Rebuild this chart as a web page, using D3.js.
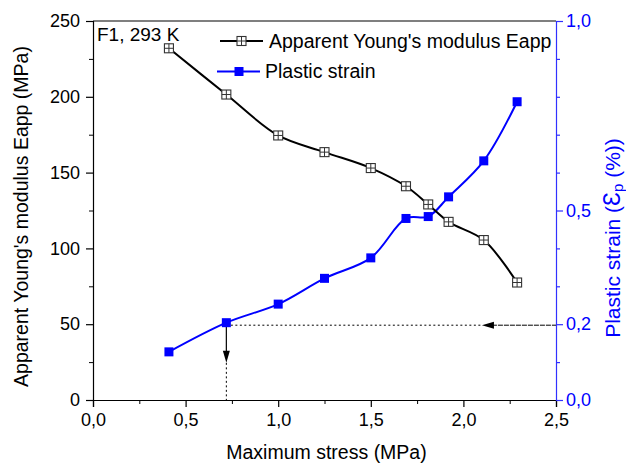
<!DOCTYPE html>
<html>
<head>
<meta charset="utf-8">
<script src="https://cdn.jsdelivr.net/npm/d3@7"></script>
<style>
  html, body { margin: 0; padding: 0; background: #fff; }
  svg { display: block; font-family: "Liberation Sans", Arial, sans-serif; }
</style>
</head>
<body>
<svg id="chart" width="626" height="466"></svg>
<script>
// ---- data ----
const stress = [0.41, 0.72, 1.0, 1.25, 1.5, 1.69, 1.81, 1.92, 2.11, 2.29];
const eapp = [232, 201.5, 174.5, 163.5, 153, 141, 129, 117.5, 105.5, 77.5];
const plasticStrain = [0.127, 0.204, 0.253, 0.321, 0.375, 0.479, 0.484, 0.536, 0.631, 0.787];
const xTicks = [0, 0.5, 1.0, 1.5, 2.0, 2.5];
const yLeftTicks = [0, 50, 100, 150, 200, 250];
const yRightTicks = [0, 0.2, 0.5, 1.0];
const legendLabels = ["Apparent Young's modulus Eapp", "Plastic strain"];
const annotation = "F1, 293 K";
// guide arrows (data units)
const guideStrain = 0.2;
const guideStress = 0.72;
const hArrowTip = 2.1;
const vArrowTip = 0.098;

// ---- layout ----
const svg = d3.select("#chart");
const L = 93, R = 556, T = 21, B = 400;
const blue = "#0000ff";
const axisBlue = "#3030ff";

const x = d3.scaleLinear().domain([0, 2.5]).range([L, R]);
const yL = d3.scaleLinear().domain([0, 250]).range([B, T]);
const yR = d3.scaleLinear().domain([0, 1]).range([B, T]);
const fmt = d => d3.format(".1f")(d).replace(".", ",");

// ---- axes ----
const xAxis = d3.axisBottom(x).tickValues(xTicks).tickFormat(fmt).tickSize(7).tickPadding(6);
const xMinor = d3.axisBottom(x).tickValues(d3.range(0.25, 2.5, 0.5)).tickFormat("").tickSize(4);
const gx = svg.append("g").attr("transform", `translate(0,${B})`).call(xAxis);
svg.append("g").attr("transform", `translate(0,${B})`).call(xMinor).select(".domain").remove();

const yAxisL = d3.axisLeft(yL).tickValues(yLeftTicks).tickSize(7).tickPadding(6);
const yMinorL = d3.axisLeft(yL).tickValues(d3.range(25, 250, 50)).tickFormat("").tickSize(4);
const gyl = svg.append("g").attr("transform", `translate(${L},0)`).call(yAxisL);
svg.append("g").attr("transform", `translate(${L},0)`).call(yMinorL).select(".domain").remove();

const yAxisR = d3.axisRight(yR).tickValues(yRightTicks).tickFormat(fmt).tickSize(7).tickPadding(3);
const yMinorR = d3.axisRight(yR).tickValues([0.1, 0.3, 0.4, 0.6, 0.7, 0.8, 0.9]).tickFormat("").tickSize(4);
const gyr = svg.append("g").attr("transform", `translate(${R},0)`).call(yAxisR);
const gyrm = svg.append("g").attr("transform", `translate(${R},0)`).call(yMinorR);
gyrm.select(".domain").remove();

// top border
svg.append("line").attr("x1", L).attr("x2", R).attr("y1", T).attr("y2", T)
  .attr("stroke", "#000").attr("stroke-width", 1.2);

[gx, gyl].forEach(g => {
  g.selectAll("text").attr("font-size", 18).attr("fill", "#000").attr("font-family", "Liberation Sans, Arial, sans-serif");
  g.selectAll("line,path").attr("stroke", "#000").attr("stroke-width", 1.2);
});
gyr.selectAll("text").attr("font-size", 18).attr("fill", blue).attr("font-family", "Liberation Sans, Arial, sans-serif");
gyr.selectAll("line,path").attr("stroke", axisBlue).attr("stroke-width", 1.2);
gyrm.selectAll("line").attr("stroke", axisBlue).attr("stroke-width", 1.2);

// ---- axis titles ----
svg.append("text").attr("x", (L + R) / 2 + 2).attr("y", 459).attr("text-anchor", "middle")
  .attr("font-size", 19.5).text("Maximum stress (MPa)");
svg.append("text").attr("transform", `translate(28,${(T + B) / 2 + 6}) rotate(-90)`)
  .attr("text-anchor", "middle").attr("font-size", 19.5).text("Apparent Young's modulus Eapp (MPa)");
const rt = svg.append("text").attr("transform", `translate(620,238) rotate(-90)`)
  .attr("text-anchor", "middle").attr("font-size", 21).attr("fill", blue);
rt.append("tspan").text("Plastic strain (");
rt.append("tspan").attr("font-size", 23).text("Ɛ");
rt.append("tspan").attr("font-size", 15).attr("dy", 3).text("p");
rt.append("tspan").attr("dy", -3).text(" (%))");

// ---- guide arrows ----
const gy = yR(guideStrain);
const gxp = x(guideStress);
svg.append("line").attr("x1", gxp).attr("x2", x(hArrowTip)).attr("y1", gy + 1).attr("y2", gy + 1)
  .attr("stroke", "#000").attr("stroke-width", 1).attr("stroke-dasharray", "2,2.5");
svg.append("line").attr("x1", x(hArrowTip) + 10).attr("x2", R).attr("y1", gy + 1).attr("y2", gy + 1)
  .attr("stroke", "#000").attr("stroke-width", 1).attr("stroke-dasharray", "5,1");
svg.append("path").attr("d", `M${x(hArrowTip)},${gy + 1} L${x(hArrowTip) + 12},${gy - 2.5} L${x(hArrowTip) + 12},${gy + 4.5} Z`)
  .attr("fill", "#000");
svg.append("line").attr("x1", gxp).attr("x2", gxp).attr("y1", gy).attr("y2", yR(vArrowTip) - 10)
  .attr("stroke", "#000").attr("stroke-width", 1.2);
svg.append("path").attr("d", `M${gxp},${yR(vArrowTip)} L${gxp - 3.5},${yR(vArrowTip) - 12} L${gxp + 3.5},${yR(vArrowTip) - 12} Z`)
  .attr("fill", "#000");
svg.append("line").attr("x1", gxp).attr("x2", gxp).attr("y1", yR(vArrowTip)).attr("y2", B)
  .attr("stroke", "#000").attr("stroke-width", 1).attr("stroke-dasharray", "2,2.5");

// ---- lines ----
const eData = stress.map((s, i) => [s, eapp[i]]);
const pData = stress.map((s, i) => [s, plasticStrain[i]]);
const lineE = d3.line().x(d => x(d[0])).y(d => yL(d[1])).curve(d3.curveCatmullRom.alpha(0.5));
const lineP = d3.line().x(d => x(d[0])).y(d => yR(d[1])).curve(d3.curveCatmullRom.alpha(0.5));

svg.append("path").datum(pData).attr("d", lineP).attr("fill", "none").attr("stroke", blue).attr("stroke-width", 2);
svg.append("path").datum(eData).attr("d", lineE).attr("fill", "none").attr("stroke", "#000").attr("stroke-width", 2);

// markers
function crossSquare(g, cx, cy) {
  const s = 9;
  g.append("rect").attr("x", cx - s / 2).attr("y", cy - s / 2).attr("width", s).attr("height", s)
    .attr("fill", "#fff").attr("stroke", "#333").attr("stroke-width", 1.1);
  g.append("line").attr("x1", cx - s / 2).attr("x2", cx + s / 2).attr("y1", cy).attr("y2", cy)
    .attr("stroke", "#333").attr("stroke-width", 1);
  g.append("line").attr("x1", cx).attr("x2", cx).attr("y1", cy - s / 2).attr("y2", cy + s / 2)
    .attr("stroke", "#333").attr("stroke-width", 1);
}
function blueSquare(g, cx, cy) {
  const s = 9;
  g.append("rect").attr("x", cx - s / 2).attr("y", cy - s / 2).attr("width", s).attr("height", s)
    .attr("fill", blue);
}
const mP = svg.append("g");
pData.forEach(d => blueSquare(mP, x(d[0]), yR(d[1])));
const mE = svg.append("g");
eData.forEach(d => crossSquare(mE, x(d[0]), yL(d[1])));

// ---- legend ----
const lg = svg.append("g");
lg.append("line").attr("x1", 220).attr("x2", 263).attr("y1", 41).attr("y2", 41).attr("stroke", "#000").attr("stroke-width", 2);
crossSquare(lg, 241.5, 41);
lg.append("text").attr("x", 269).attr("y", 47.5).attr("font-size", 19.5).text(legendLabels[0]);
lg.append("line").attr("x1", 217).attr("x2", 260).attr("y1", 71.5).attr("y2", 71.5).attr("stroke", blue).attr("stroke-width", 2);
blueSquare(lg, 239, 71.5);
lg.append("text").attr("x", 265).attr("y", 78).attr("font-size", 19.5).text(legendLabels[1]);

// annotation
svg.append("text").attr("x", 97).attr("y", 41).attr("font-size", 19).text(annotation);
</script>
</body>
</html>
